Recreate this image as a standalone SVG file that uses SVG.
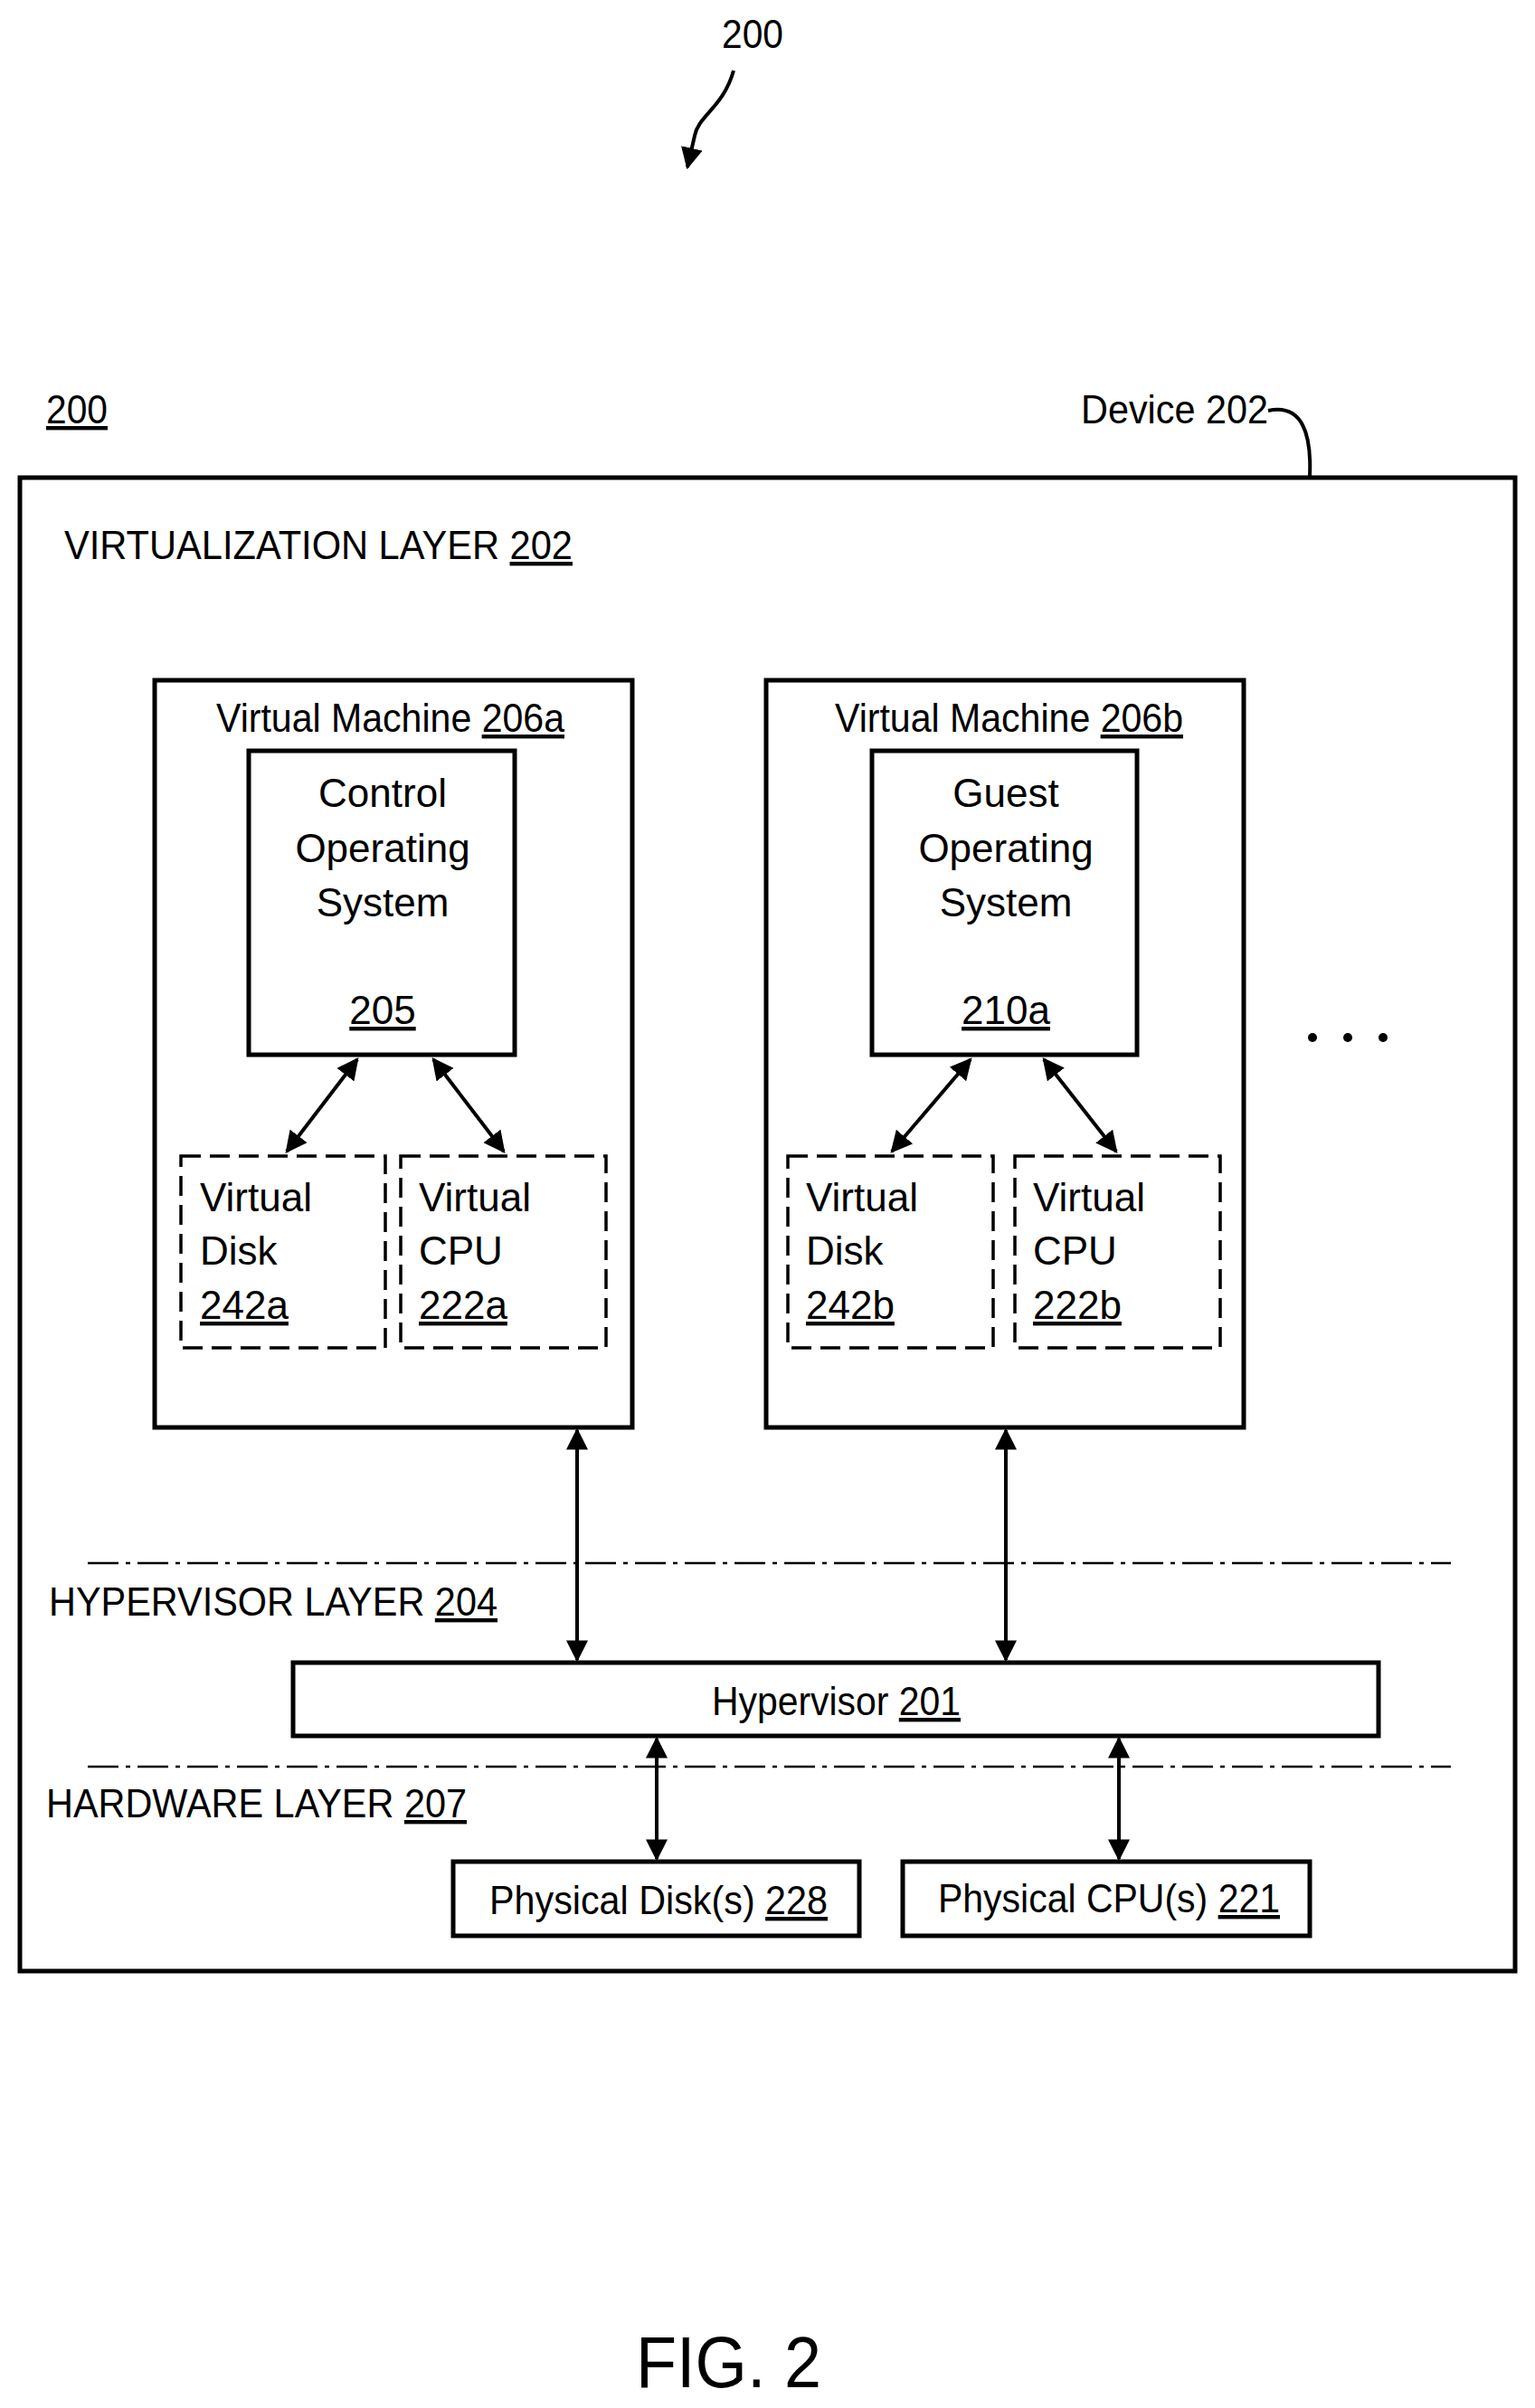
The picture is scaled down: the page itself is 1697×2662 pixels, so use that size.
<svg xmlns="http://www.w3.org/2000/svg" width="1697" height="2662" viewBox="0 0 1697 2662">
<style>
text{font-family:"Liberation Sans",Arial,sans-serif;font-size:44px;fill:#000}
.box{fill:#fff;stroke:#000;stroke-width:5}
.dbox{fill:#fff;stroke:#000;stroke-width:3.5;stroke-dasharray:22 10}
.con{stroke:#000;stroke-width:4;fill:none}
.dd{stroke:#000;stroke-width:2.5;stroke-dasharray:34 8 5 8;fill:none}
.u{text-decoration:underline}
</style>
<defs>
<marker id="ah" viewBox="0 0 10 10" refX="9" refY="5" markerWidth="6" markerHeight="6" orient="auto-start-reverse"><path d="M0,0 L10,5 L0,10 z" fill="#000"/></marker>
</defs>
<rect width="1697" height="2662" fill="#fff"/>
<g id="fig-ref">
<text x="832" y="53" text-anchor="middle" textLength="68" lengthAdjust="spacingAndGlyphs">200</text>
<path class="con" d="M811 78 C800 118,772 128,768 150 L760 185" marker-end="url(#ah)"/>
</g>
<g id="device">
<rect class="box" x="22" y="528" width="1653" height="1651"/>
<text x="51" y="468" class="u" textLength="68" lengthAdjust="spacingAndGlyphs">200</text>
<text x="1195" y="468" textLength="207" lengthAdjust="spacingAndGlyphs">Device 202</text>
<path class="con" d="M1402 454 C1440 446,1450 480,1448 526"/>
<text x="71" y="618" textLength="562" lengthAdjust="spacingAndGlyphs">VIRTUALIZATION LAYER <tspan class="u">202</tspan></text>
</g>
<g id="vm-a">
<rect class="box" x="171" y="752" width="528" height="826"/>
<text x="239" y="809" textLength="385" lengthAdjust="spacingAndGlyphs">Virtual Machine <tspan class="u">206a</tspan></text>
</g>
<g id="cos">
<rect class="box" x="275" y="830" width="294" height="336"/>
<text x="423" y="892" text-anchor="middle">Control</text>
<text x="423" y="953" text-anchor="middle">Operating</text>
<text x="423" y="1013" text-anchor="middle">System</text>
<text x="423" y="1132" text-anchor="middle" class="u">205</text>
</g>
<g id="vdisk-a"><rect class="dbox" x="200" y="1278" width="226" height="212"/>
<text x="221" y="1339">Virtual</text><text x="221" y="1398">Disk</text><text x="221" y="1458" class="u">242a</text></g>
<g id="vcpu-a"><rect class="dbox" x="443" y="1278" width="227" height="212"/>
<text x="463" y="1339">Virtual</text><text x="463" y="1398">CPU</text><text x="463" y="1458" class="u">222a</text></g>
<g id="vm-b">
<rect class="box" x="847" y="752" width="528" height="826"/>
<text x="923" y="809" textLength="385" lengthAdjust="spacingAndGlyphs">Virtual Machine <tspan class="u">206b</tspan></text>
</g>
<g id="gos">
<rect class="box" x="964" y="830" width="293" height="336"/>
<text x="1112" y="892" text-anchor="middle">Guest</text>
<text x="1112" y="953" text-anchor="middle">Operating</text>
<text x="1112" y="1013" text-anchor="middle">System</text>
<text x="1112" y="1132" text-anchor="middle" class="u">210a</text>
</g>
<g id="vdisk-b"><rect class="dbox" x="871" y="1278" width="227" height="212"/>
<text x="891" y="1339">Virtual</text><text x="891" y="1398">Disk</text><text x="891" y="1458" class="u">242b</text></g>
<g id="vcpu-b"><rect class="dbox" x="1122" y="1278" width="227" height="212"/>
<text x="1142" y="1339">Virtual</text><text x="1142" y="1398">CPU</text><text x="1142" y="1458" class="u">222b</text></g>
<g id="dots"><circle cx="1451" cy="1147" r="5"/><circle cx="1490" cy="1147" r="5"/><circle cx="1529" cy="1147" r="5"/></g>
<g id="layers">
<path class="dd" d="M97 1728 H1604 M97 1953 H1604"/>
<text x="54" y="1786" textLength="496" lengthAdjust="spacingAndGlyphs">HYPERVISOR LAYER <tspan class="u">204</tspan></text>
<text x="51" y="2009" textLength="465" lengthAdjust="spacingAndGlyphs">HARDWARE LAYER <tspan class="u">207</tspan></text>
</g>
<g id="hypervisor"><rect class="box" x="324" y="1838" width="1200" height="81" stroke-width="3"/>
<text x="787" y="1896" textLength="275" lengthAdjust="spacingAndGlyphs">Hypervisor <tspan class="u">201</tspan></text></g>
<g id="pdisk"><rect class="box" x="501" y="2058" width="449" height="82" stroke-width="3"/>
<text x="541" y="2116" textLength="374" lengthAdjust="spacingAndGlyphs">Physical Disk(s) <tspan class="u">228</tspan></text></g>
<g id="pcpu"><rect class="box" x="998" y="2058" width="450" height="82" stroke-width="3"/>
<text x="1037" y="2114" textLength="378" lengthAdjust="spacingAndGlyphs">Physical CPU(s) <tspan class="u">221</tspan></text></g>
<g id="connectors">
<line class="con" x1="395" y1="1171" x2="317" y2="1273" marker-start="url(#ah)" marker-end="url(#ah)"/>
<line class="con" x1="479" y1="1171" x2="557" y2="1273" marker-start="url(#ah)" marker-end="url(#ah)"/>
<line class="con" x1="1073" y1="1171" x2="986" y2="1273" marker-start="url(#ah)" marker-end="url(#ah)"/>
<line class="con" x1="1154" y1="1171" x2="1234" y2="1273" marker-start="url(#ah)" marker-end="url(#ah)"/>
<line class="con" x1="638" y1="1581" x2="638" y2="1835" marker-start="url(#ah)" marker-end="url(#ah)"/>
<line class="con" x1="1112" y1="1581" x2="1112" y2="1835" marker-start="url(#ah)" marker-end="url(#ah)"/>
<line class="con" x1="726" y1="1922" x2="726" y2="2055" marker-start="url(#ah)" marker-end="url(#ah)"/>
<line class="con" x1="1237" y1="1922" x2="1237" y2="2055" marker-start="url(#ah)" marker-end="url(#ah)"/>
</g>
<text x="703" y="2639" style="font-size:80px" textLength="205" lengthAdjust="spacingAndGlyphs">FIG. 2</text>
</svg>
